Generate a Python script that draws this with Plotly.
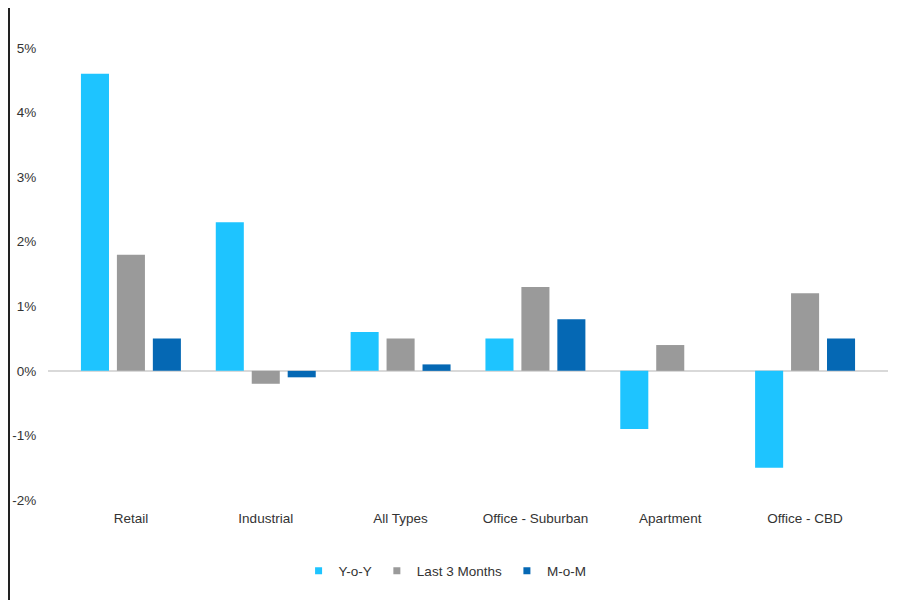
import plotly.graph_objects as go

# Property type price changes (%)
categories = ["Retail", "Industrial", "All Types", "Office - Suburban", "Apartment", "Office - CBD"]
yoy = [4.6, 2.3, 0.6, 0.5, -0.9, -1.5]
last_3_months = [1.8, -0.2, 0.5, 1.3, 0.4, 1.2]
mom = [0.5, -0.1, 0.1, 0.8, 0.0, 0.5]

tick_vals = [-2, -1, 0, 1, 2, 3, 4, 5]
tick_text = ["-2%", "-1%", "0%", "1%", "2%", "3%", "4%", "5%"]

series = [
    ("Y-o-Y", yoy, "#1EC4FF"),
    ("Last 3 Months", last_3_months, "#9A9A9A"),
    ("M-o-M", mom, "#0568B4"),
]

fig = go.Figure()
for name, vals, color in series:
    fig.add_trace(go.Bar(x=categories, y=vals, name=name, marker_color=color,
                         marker_line_width=0, legendgroup=name, showlegend=False))
# small square legend keys like the original
for name, vals, color in series:
    fig.add_trace(go.Scatter(x=[None], y=[None], mode="markers", name=name, legendgroup=name,
                             marker=dict(symbol="square", size=7, color=color)))

font = "Arial, Liberation Sans, sans-serif"
fig.update_layout(
    width=892, height=592,
    barmode="group", bargap=0.2, bargroupgap=0.22,
    plot_bgcolor="white", paper_bgcolor="white",
    font=dict(family=font, size=13.5, color="#333333"),
    margin=dict(l=40, r=12, t=40, b=100, autoexpand=False),
    xaxis=dict(
        range=[-0.615, 5.615], showgrid=False, showline=False, automargin=False,
        ticks="outside", ticklen=6, tickcolor="rgba(0,0,0,0)",
    ),
    yaxis=dict(
        range=[-2, 5], tickvals=tick_vals, ticktext=tick_text, automargin=False,
        showgrid=False, zeroline=True, zerolinecolor="#D9D9D9", zerolinewidth=1.5,
        showline=False, ticks="outside", ticklen=8, tickcolor="rgba(0,0,0,0)",
    ),
    legend=dict(
        orientation="h", xref="container", yref="container",
        x=0.49, y=0.049, xanchor="center", yanchor="middle",
        itemwidth=30, tracegroupgap=0,
    ),
)

# thin frame on the left and right edges
fig.add_shape(type="line", xref="paper", yref="paper", x0=-39/840, x1=-39/840, y0=-100/452, y1=1 + 40/452,
              line=dict(color="#222222", width=2))
fig.add_shape(type="line", xref="paper", yref="paper", x0=1 + 8/840, x1=1 + 8/840, y0=-100/452, y1=1 + 40/452,
              line=dict(color="#222222", width=2))

fig.write_html("out.html")
